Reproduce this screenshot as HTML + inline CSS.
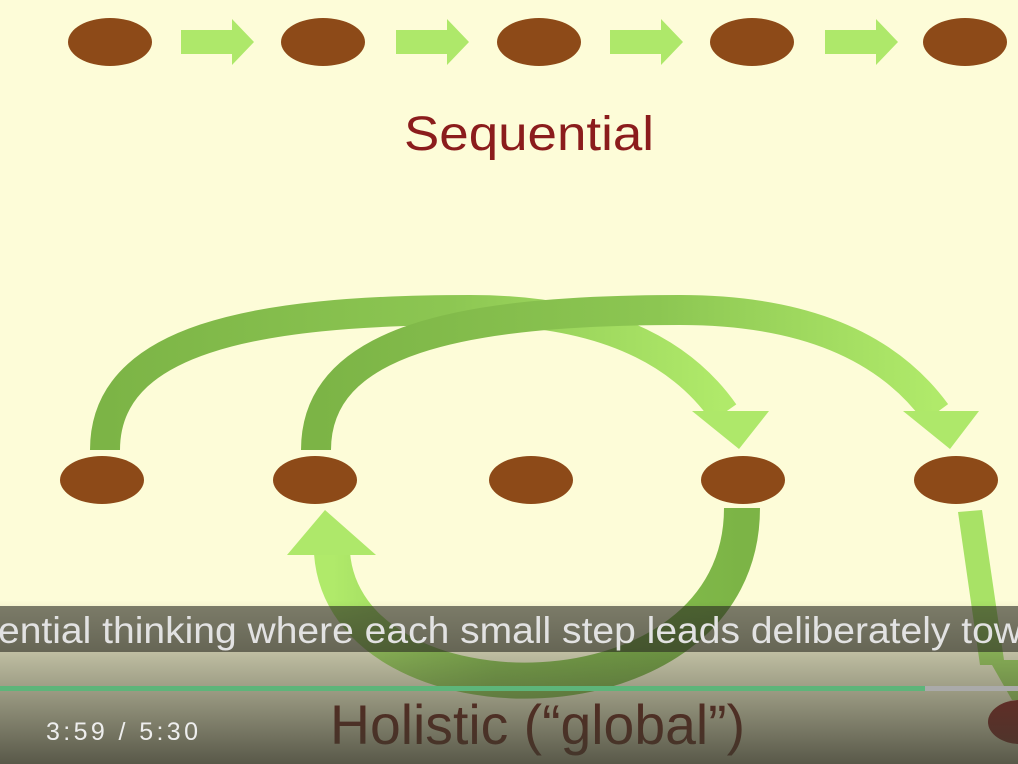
<!DOCTYPE html>
<html><head><meta charset="utf-8"><style>
html,body{margin:0;padding:0;width:1018px;height:764px;overflow:hidden;background:#fdfcd8}
svg{display:block}
</style></head><body>
<svg width="1018" height="764" viewBox="0 0 1018 764" xmlns="http://www.w3.org/2000/svg">
<defs>
<linearGradient id="g" x1="0" y1="0" x2="1" y2="0">
<stop offset="0" stop-color="#7cb446"/><stop offset="0.55" stop-color="#8cc652"/><stop offset="1" stop-color="#b0ea6a"/>
</linearGradient>
<linearGradient id="g2" x1="1" y1="0" x2="0" y2="0">
<stop offset="0" stop-color="#7cb446"/><stop offset="0.6" stop-color="#8cc652"/><stop offset="1" stop-color="#b0ea6a"/>
</linearGradient>
<linearGradient id="ov" x1="0" y1="0" x2="0" y2="1">
<stop offset="0" stop-color="#3c3c30" stop-opacity="0"/><stop offset="0.35" stop-color="#3c3c30" stop-opacity="0.35"/><stop offset="1" stop-color="#3c3c30" stop-opacity="0.85"/>
</linearGradient>
</defs>
<rect width="1018" height="764" fill="#fdfcd8"/>
<g fill="#8d4a18">
<ellipse cx="110" cy="42" rx="42" ry="24"/><ellipse cx="323" cy="42" rx="42" ry="24"/><ellipse cx="539" cy="42" rx="42" ry="24"/><ellipse cx="752" cy="42" rx="42" ry="24"/><ellipse cx="965" cy="42" rx="42" ry="24"/>
</g>
<g fill="#aee86a">
<polygon points="181,30 232,30 232,19 254,42 232,65 232,54 181,54"/>
<polygon points="396,30 447,30 447,19 469,42 447,65 447,54 396,54"/>
<polygon points="610,30 661,30 661,19 683,42 661,65 661,54 610,54"/>
<polygon points="825,30 876,30 876,19 898,42 876,65 876,54 825,54"/>
</g>
<text x="529" y="150" text-anchor="middle" textLength="250" lengthAdjust="spacingAndGlyphs" font-family="Liberation Sans, sans-serif" font-size="48" fill="#8b1c1c">Sequential</text>
<g fill="none" stroke="url(#g)" stroke-width="30">
<path d="M105 450 C105 340, 250 310, 470 310 C600 310, 680 350, 724 413"/>
<path d="M316 450 C316 340, 460 310, 680 310 C810 310, 890 350, 936 413"/>
</g>
<polygon points="692,411 769,411 739,449" fill="#aee86a"/>
<polygon points="903,411 979,411 950,449" fill="#aee86a"/>
<path d="M742 508 C742 730, 345 730, 332 553" fill="none" stroke="url(#g2)" stroke-width="36"/>
<polygon points="287,555 376,555 325,510" fill="#aee86a"/>
<polygon points="958,512 982,510 1004,660 1018,660 1018,700 1012,700 992,665 980,665" fill="#a8e266"/>
<g fill="#8d4a18">
<ellipse cx="102" cy="480" rx="42" ry="24"/><ellipse cx="315" cy="480" rx="42" ry="24"/><ellipse cx="531" cy="480" rx="42" ry="24"/><ellipse cx="743" cy="480" rx="42" ry="24"/><ellipse cx="956" cy="480" rx="42" ry="24"/>
</g>
<ellipse cx="1020" cy="722" rx="32" ry="22" fill="#8b1c1c"/>
<text x="330" y="744" textLength="415" lengthAdjust="spacingAndGlyphs" font-family="Liberation Sans, sans-serif" font-size="56" fill="#6a1a12">Holistic (“global”)</text>
<rect x="0" y="600" width="1018" height="164" fill="url(#ov)"/>
<rect x="0" y="606" width="1018" height="46" fill="#2a2a22" fill-opacity="0.6"/>
<text x="-2" y="643" textLength="1024" lengthAdjust="spacingAndGlyphs" font-family="Liberation Sans, sans-serif" font-size="37" fill="#e2e2e2">ential thinking where each small step leads deliberately tow</text>
<rect x="0" y="686" width="925" height="5" fill="#5db57a"/>
<rect x="925" y="686" width="93" height="5" fill="#aaaaaa"/>
<text x="46" y="740" textLength="152" lengthAdjust="spacing" font-family="Liberation Sans, sans-serif" font-size="25" fill="#eeeeee">3:59 / 5:30</text>
</svg>
</body></html>
